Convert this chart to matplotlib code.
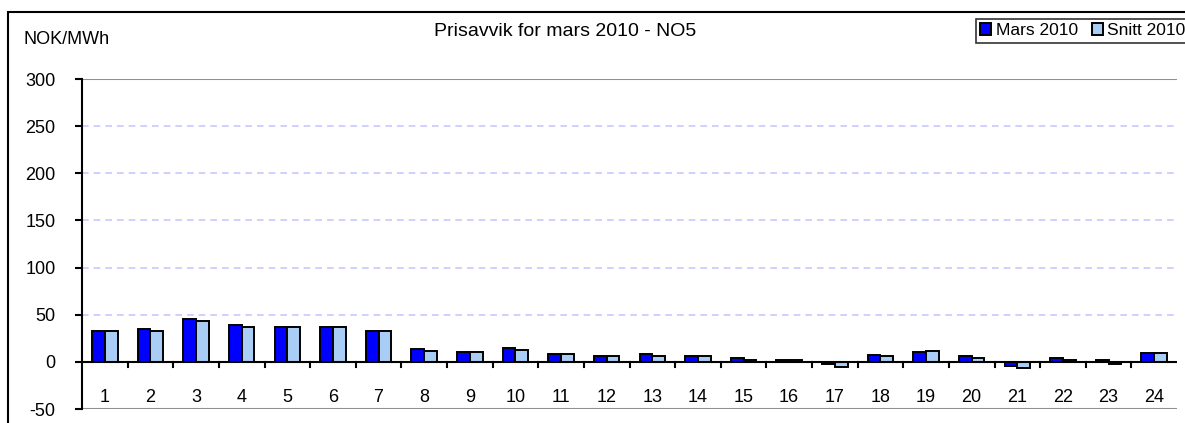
import matplotlib.pyplot as plt
import numpy as np
from matplotlib.patches import Rectangle

hours = [str(h) for h in range(1, 25)]
mars_2010 = [33, 35, 45, 39, 37, 37, 33, 14, 10.5, 15, 8.5, 6,
             8.5, 6, 4, 2, -2, 7, 10.5, 6.5, -4.5, 4, 1.5, 9]
snitt_2010 = [33, 33, 43.5, 37, 37, 37, 33, 12, 10, 13, 8, 6,
              6, 6, 2, 2, -5, 6.5, 11, 4.5, -7, 2.5, -2.5, 9]

W, H = 1185, 423
plt.rcParams['font.family'] = ['Liberation Sans', 'DejaVu Sans']
plt.rcParams['axes.unicode_minus'] = False
fig = plt.figure(figsize=(W / 100, H / 100), dpi=100)

# outer chart frame (cut off at right and bottom)
fig.patches.append(Rectangle((8 / W, -0.05), 1.1, 1 - 12 / H + 0.05,
                             transform=fig.transFigure, fill=False,
                             edgecolor='black', linewidth=1.5))

ax = fig.add_axes([82 / W, 1 - 409 / H, (1177 - 82) / W, (409 - 79) / H])

x = np.arange(len(hours))
bw = 0.28
ax.bar(x - bw / 2, mars_2010, bw, color='#0000ff', edgecolor='black',
       linewidth=1.4, label='Mars 2010', zorder=3)
ax.bar(x + bw / 2, snitt_2010, bw, color='#a9cdf5', edgecolor='black',
       linewidth=1.4, label='Snitt 2010', zorder=3)

ax.set_xlim(-0.5, 23.5)
ax.set_ylim(-50, 300)
ax.set_yticks(range(-50, 301, 50))
for y in range(50, 300, 50):
    ax.axhline(y, color='#c8c8ff', linestyle=(0, (4, 3)), linewidth=1.2, zorder=1)
ax.axhline(300, color='#909090', linewidth=1.5, zorder=1)
ax.axhline(-50, color='#909090', linewidth=1.5, zorder=1)
ax.axhline(0, color='black', linewidth=1.5, zorder=4)

for s in ['top', 'right', 'bottom']:
    ax.spines[s].set_visible(False)
ax.spines['left'].set_linewidth(1.5)

ax.tick_params(axis='y', length=5, width=1.5, labelsize=13, pad=14)
ax.set_xticks([])
# category boundary ticks on the zero line
for b in np.arange(0.5, 23.5, 1):
    ax.plot([b, b], [0, -5], color='black', linewidth=1.5, zorder=4,
            clip_on=False)
for i, h in enumerate(hours):
    ax.text(x[i], -38, h, ha='center', va='center', fontsize=13)

fig.text(23 / W, 1 - 39 / H, 'NOK/MWh', fontsize=13, va='center', ha='left')
fig.text(565 / W, 1 - 32 / H, 'Prisavvik for mars 2010 - NO5', fontsize=14,
         va='center', ha='center')

leg = fig.legend(loc='upper right', bbox_to_anchor=(1.004, 1 - 19 / H),
                 ncol=2, fontsize=12.5, frameon=True, fancybox=False,
                 handlelength=0.65, handleheight=0.65, handletextpad=0.25,
                 columnspacing=0.8, borderpad=0.25, borderaxespad=0)
leg.get_frame().set_edgecolor('black')
leg.get_frame().set_linewidth(1.2)

fig.savefig('out.png', dpi=100)
